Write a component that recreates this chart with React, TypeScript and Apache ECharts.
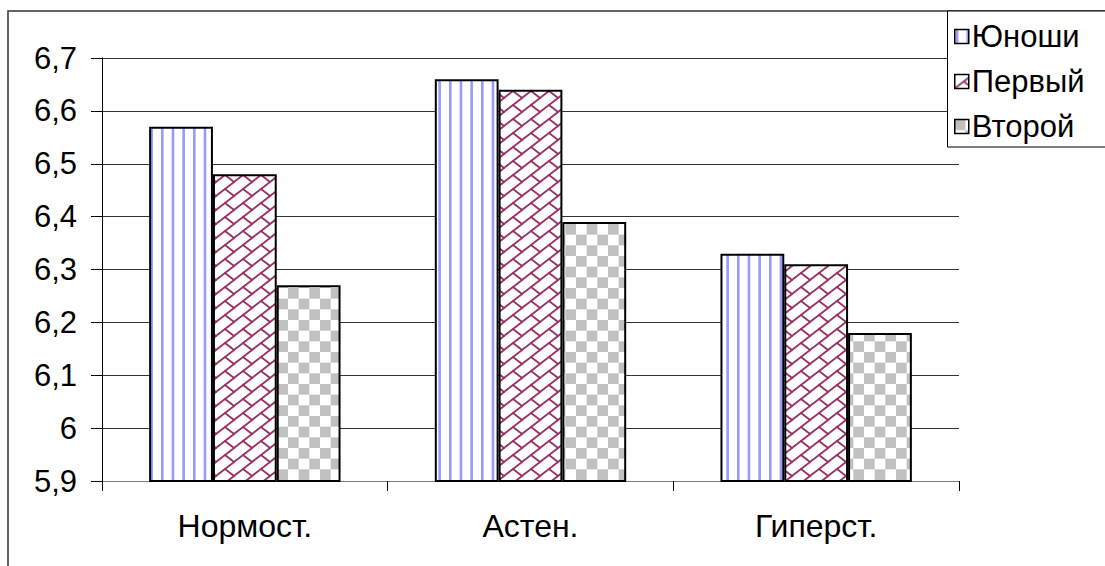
import React, { useEffect, useRef } from "react";
import * as echarts from "echarts";

const categories = ["Нормост.", "Астен.", "Гиперст."];
const seriesNames = ["Юноши", "Первый", "Второй"];
const youths = [6.57, 6.66, 6.33];
const first = [6.48, 6.64, 6.31];
const second = [6.27, 6.39, 6.18];
const yMin = 5.9;
const yMax = 6.7;
const yStep = 0.1;

const FONT = "'Liberation Sans', Arial, sans-serif";

function stripePattern() {
  const c = document.createElement("canvas");
  c.width = 32;
  c.height = 8;
  const g = c.getContext("2d")!;
  g.fillStyle = "#ffffff";
  g.fillRect(0, 0, 32, 8);
  g.fillStyle = "#9999ff";
  for (let i = 0; i < 3; i++) {
    g.fillRect(i * (32 / 3) + 1, 0, 2.6, 8);
  }
  return c;
}

function checkerPattern() {
  const c = document.createElement("canvas");
  c.width = 64;
  c.height = 64;
  const g = c.getContext("2d")!;
  g.fillStyle = "#ffffff";
  g.fillRect(0, 0, 64, 64);
  g.fillStyle = "#c0c0c0";
  const s = 64 / 6;
  for (let i = 0; i < 6; i++) {
    for (let j = 0; j < 6; j++) {
      if ((i + j) % 2 === 0) g.fillRect(i * s, j * s, s, s);
    }
  }
  return c;
}

function brickPattern() {
  const W = 18;
  const H = 14;
  const c = document.createElement("canvas");
  c.width = W;
  c.height = H;
  const g = c.getContext("2d")!;
  g.fillStyle = "#ffffff";
  g.fillRect(0, 0, W, H);
  g.strokeStyle = "#993366";
  g.lineWidth = 1.8;
  g.lineCap = "round";
  for (let k = -1; k <= 1; k++) {
    g.beginPath();
    g.moveTo(W * 2 + k * W, -H);
    g.lineTo(-W + k * W, 2 * H);
    g.stroke();
  }
  for (let dx = -1; dx <= 1; dx++) {
    for (let dy = -1; dy <= 1; dy++) {
      g.beginPath();
      g.moveTo(W / 2 + dx * W, H / 2 + dy * H);
      g.lineTo(W + dx * W, H + dy * H);
      g.stroke();
    }
  }
  return c;
}

export default function App() {
  const ref = useRef<HTMLDivElement>(null);
  useEffect(() => {
    if (!ref.current) return;
    const chart = echarts.init(ref.current, null, { renderer: "svg" });
    const sc = stripePattern();
    const bc = brickPattern();
    const cc = checkerPattern();
    const fills: any[] = [
      { image: sc, repeat: "repeat", imageWidth: sc.width, imageHeight: sc.height },
      { image: bc, repeat: "repeat", imageWidth: bc.width, imageHeight: bc.height },
      { image: cc, repeat: "repeat", imageWidth: cc.width, imageHeight: cc.height },
    ];
    const data = [youths, first, second];
    chart.setOption({
      animation: false,
      backgroundColor: "#ffffff",
      textStyle: { fontFamily: FONT },
      graphic: [
        {
          type: "rect",
          shape: { x: 8, y: 11, width: 1200, height: 700 },
          style: { fill: "none", stroke: "#333333", lineWidth: 1.5 },
          z: 0,
        },
        {
          type: "rect",
          shape: { x: 947.5, y: 11, width: 300, height: 136 },
          style: { fill: "#ffffff", stroke: "#000000", lineWidth: 1 },
          z: 5,
        },
      ],
      grid: { left: 102, right: 146, top: 58, bottom: 85, containLabel: false },
      legend: {
        orient: "vertical",
        left: 947,
        top: 11,
        z: 10,
        padding: [10, 5, 9, 7],
        itemGap: 14,
        itemWidth: 14,
        itemHeight: 14,
        icon: "rect",
        borderWidth: 0,
        itemStyle: { borderColor: "#000000", borderWidth: 1.5 },
        textStyle: { fontFamily: FONT, fontSize: 31, color: "#000000", lineHeight: 29, padding: [0, 0, 0, -2] },
        data: seriesNames,
      },
      xAxis: {
        type: "category",
        data: categories,
        boundaryGap: true,
        axisLine: { show: true, lineStyle: { color: "#808080", width: 1 } },
        axisTick: { show: true, length: 10, lineStyle: { color: "#000000", width: 1 } },
        axisLabel: { fontFamily: FONT, fontSize: 32, color: "#000000", margin: 29 },
        splitLine: { show: false },
      },
      yAxis: {
        type: "value",
        min: yMin,
        max: yMax,
        interval: yStep,
        axisLine: { show: true, lineStyle: { color: "#000000", width: 1 } },
        axisTick: { show: true, length: 11, lineStyle: { color: "#000000", width: 1 } },
        axisLabel: {
          fontFamily: FONT,
          fontSize: 31,
          color: "#000000",
          margin: 25,
          formatter: (v: number) => String(Number(v.toFixed(1))).replace(".", ","),
        },
        splitLine: { show: true, lineStyle: { color: "#333333", width: 1 } },
      },
      series: seriesNames.map((name, i) => ({
        name,
        type: "bar",
        data: data[i],
        barGap: "0%",
        barCategoryGap: "33%",
        itemStyle: { color: fills[i], borderColor: "#000000", borderWidth: 2 },
      })),
    });
    return () => chart.dispose();
  }, []);
  return (
    <div
      ref={ref}
      style={{ position: "fixed", left: 0, top: 0, width: 1105, height: 566 }}
    />
  );
}
